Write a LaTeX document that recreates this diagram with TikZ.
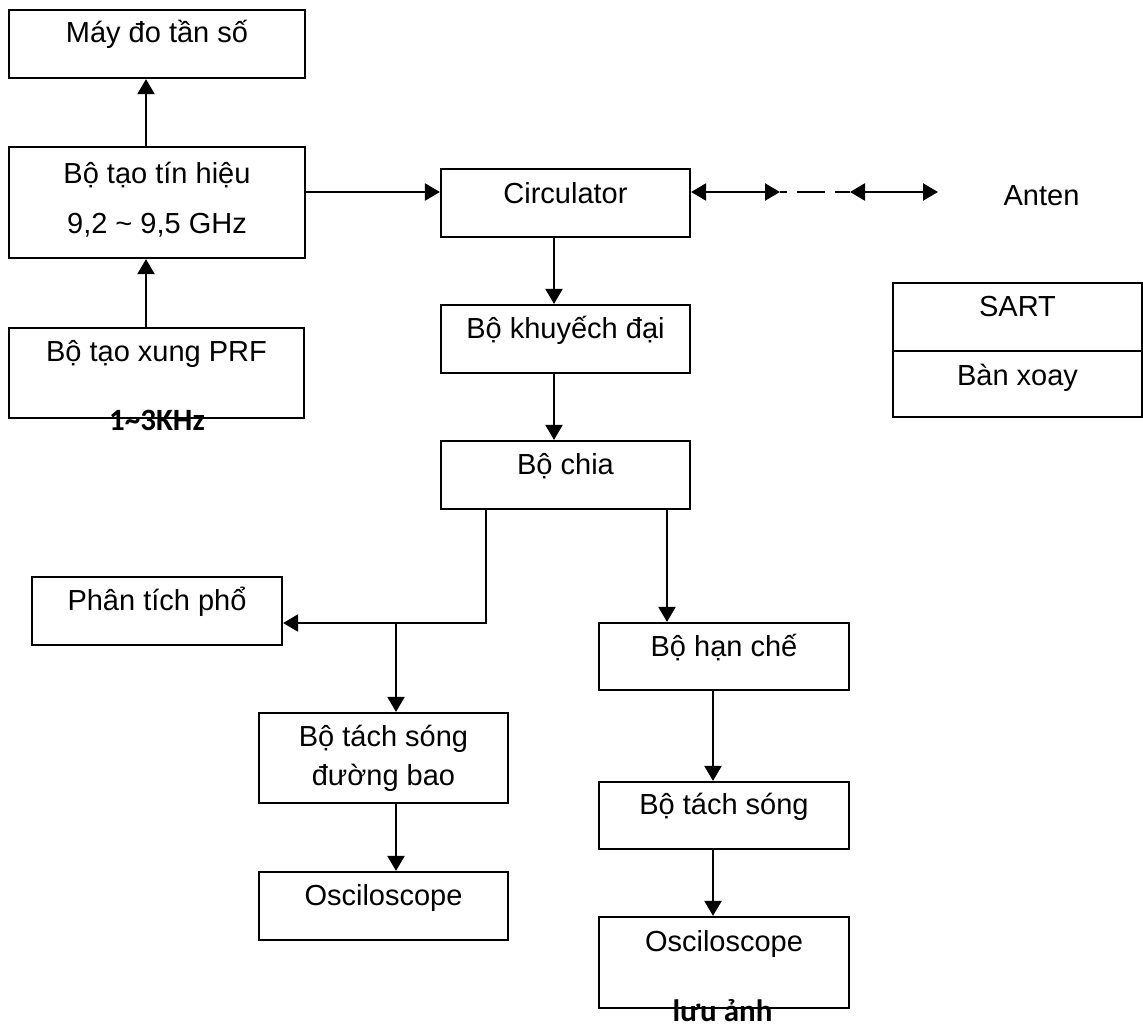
\documentclass[tikz,border=0pt]{standalone}
\usepackage{fontspec}
\setmainfont{Liberation Sans}
\newfontfamily\calib{Carlito}
\usetikzlibrary{arrows.meta}
\begin{document}
\begin{tikzpicture}[x=1pt,y=-1pt,
  box/.style={draw, line width=2.2pt, inner sep=0pt, rectangle},
  txt/.style={inner sep=0pt, anchor=base, font=\fontsize{29}{34}\selectfont},
  btxt/.style={inner sep=0pt, anchor=base, font=\calib\bfseries\fontsize{31}{36}\selectfont},
  arr/.style={line width=2.2pt, -{Triangle[length=15pt,width=17pt]}},
  dbl/.style={line width=2.2pt, {Triangle[length=15pt,width=17pt]}-{Triangle[length=15pt,width=17pt]}}
]
\useasboundingbox (0,0) rectangle (1143,1028);
\fill[white] (0,0) rectangle (1143,1028);

% boxes (center, size)
\node[box, minimum width=296pt, minimum height=68pt]  (maydo)    at (157,44) {};
\node[box, minimum width=296pt, minimum height=111pt] (tinhieu)  at (157,202.5) {};
\node[box, minimum width=295pt, minimum height=90pt]  (prf)      at (156.5,373) {};
\node[box, minimum width=249pt, minimum height=68pt]  (circ)     at (565.5,203) {};
\node[box, minimum width=249pt, minimum height=68pt]  (khd)      at (565.5,339) {};
\node[box, minimum width=249pt, minimum height=68pt]  (chia)     at (565.5,475) {};
\node[box, minimum width=250pt, minimum height=68pt]  (ptp)      at (157,611) {};
\node[box, minimum width=250pt, minimum height=67pt]  (hanche)   at (724,656.5) {};
\node[box, minimum width=249pt, minimum height=90pt]  (dbao)     at (383.5,758) {};
\node[box, minimum width=249pt, minimum height=68pt]  (osc1)     at (383.5,906) {};
\node[box, minimum width=250pt, minimum height=67pt]  (tachsong) at (724,815.5) {};
\node[box, minimum width=250pt, minimum height=91pt]  (osc2)     at (724,962.5) {};
\node[box, minimum width=249pt, minimum height=68pt]  (sart)     at (1017.5,317) {};
\node[box, minimum width=249pt, minimum height=66pt]  (banxoay)  at (1017.5,384) {};

% texts
\node[txt, yshift=-34pt] (t-maydo) at (maydo.north) {Máy đo tần số};
\node[txt, yshift=-38pt] (t-tinhieu1) at (tinhieu.north) {Bộ tạo tín hiệu};
\node[txt, yshift=-88pt] (t-tinhieu2) at (tinhieu.north) {9,2 \textasciitilde{} 9,5 GHz};
\node[txt, yshift=-35pt] (t-prf) at (prf.north) {Bộ tạo xung PRF};
\node[btxt] (t-khz) at (157,430) {1\textasciitilde3KHz};
\node[txt, yshift=-36pt] (t-circ) at (circ.north) {Circulator};
\node[txt, yshift=-35pt] (t-khd) at (khd.north) {Bộ khuyếch đại};
\node[txt, yshift=-35pt] (t-chia) at (chia.north) {Bộ chia};
\node[txt, yshift=-35pt] (t-ptp) at (ptp.north) {Phân tích phổ};
\node[txt, yshift=-35pt] (t-hanche) at (hanche.north) {Bộ hạn chế};
\node[txt, yshift=-35pt] (t-dbao1) at (dbao.north) {Bộ tách sóng};
\node[txt, yshift=-74pt] (t-dbao2) at (dbao.north) {đường bao};
\node[txt, yshift=-35pt] (t-osc1) at (osc1.north) {Osciloscope};
\node[txt, yshift=-34pt] (t-tachsong) at (tachsong.north) {Bộ tách sóng};
\node[txt, yshift=-36pt] (t-osc2) at (osc2.north) {Osciloscope};
\node[btxt] (t-luu) at (722.5,1021) {lưu ảnh};
\node[txt, yshift=-35pt] (t-sart) at (sart.north) {SART};
\node[txt, yshift=-36pt] (t-banxoay) at (banxoay.north) {Bàn xoay};
\node[txt] (anten) at (1041.5,205) {Anten};

% helper coordinates
\coordinate (xL) at (146,0);
\coordinate (yA) at (0,192);
\coordinate (xC) at (554,0);
\coordinate (jL) at (486,623);
\coordinate (jD) at (396,623);
\coordinate (xR) at (667,0);
\coordinate (xR2) at (713,0);
\coordinate (p1) at (780,192);
\coordinate (p2) at (850,192);
\coordinate (p3) at (938,192);

% connectors
\draw[arr] (tinhieu.north -| xL) -- (maydo.south -| xL);
\draw[arr] (prf.north -| xL) -- (tinhieu.south -| xL);
\draw[arr] (tinhieu.east |- yA) -- (circ.west |- yA);
\draw[arr] (circ.south -| xC) -- (khd.north -| xC);
\draw[arr] (khd.south -| xC) -- (chia.north -| xC);
\draw[arr] (chia.south -| jL) -- (jL) -- (ptp.east |- jL);
\draw[arr] (jD) -- (dbao.north -| jD);
\draw[arr] (dbao.south -| jD) -- (osc1.north -| jD);
\draw[arr] (chia.south -| xR) -- (hanche.north -| xR);
\draw[arr] (hanche.south -| xR2) -- (tachsong.north -| xR2);
\draw[arr] (tachsong.south -| xR2) -- (osc2.north -| xR2);

\draw[dbl] (circ.east |- p1) -- (p1);
\draw[line width=2.2pt, dash pattern=on 7pt off 10pt on 28pt off 10pt on 15pt] (p1) -- (p2);
\draw[dbl] (p2) -- (p3);
\end{tikzpicture}
\end{document}
